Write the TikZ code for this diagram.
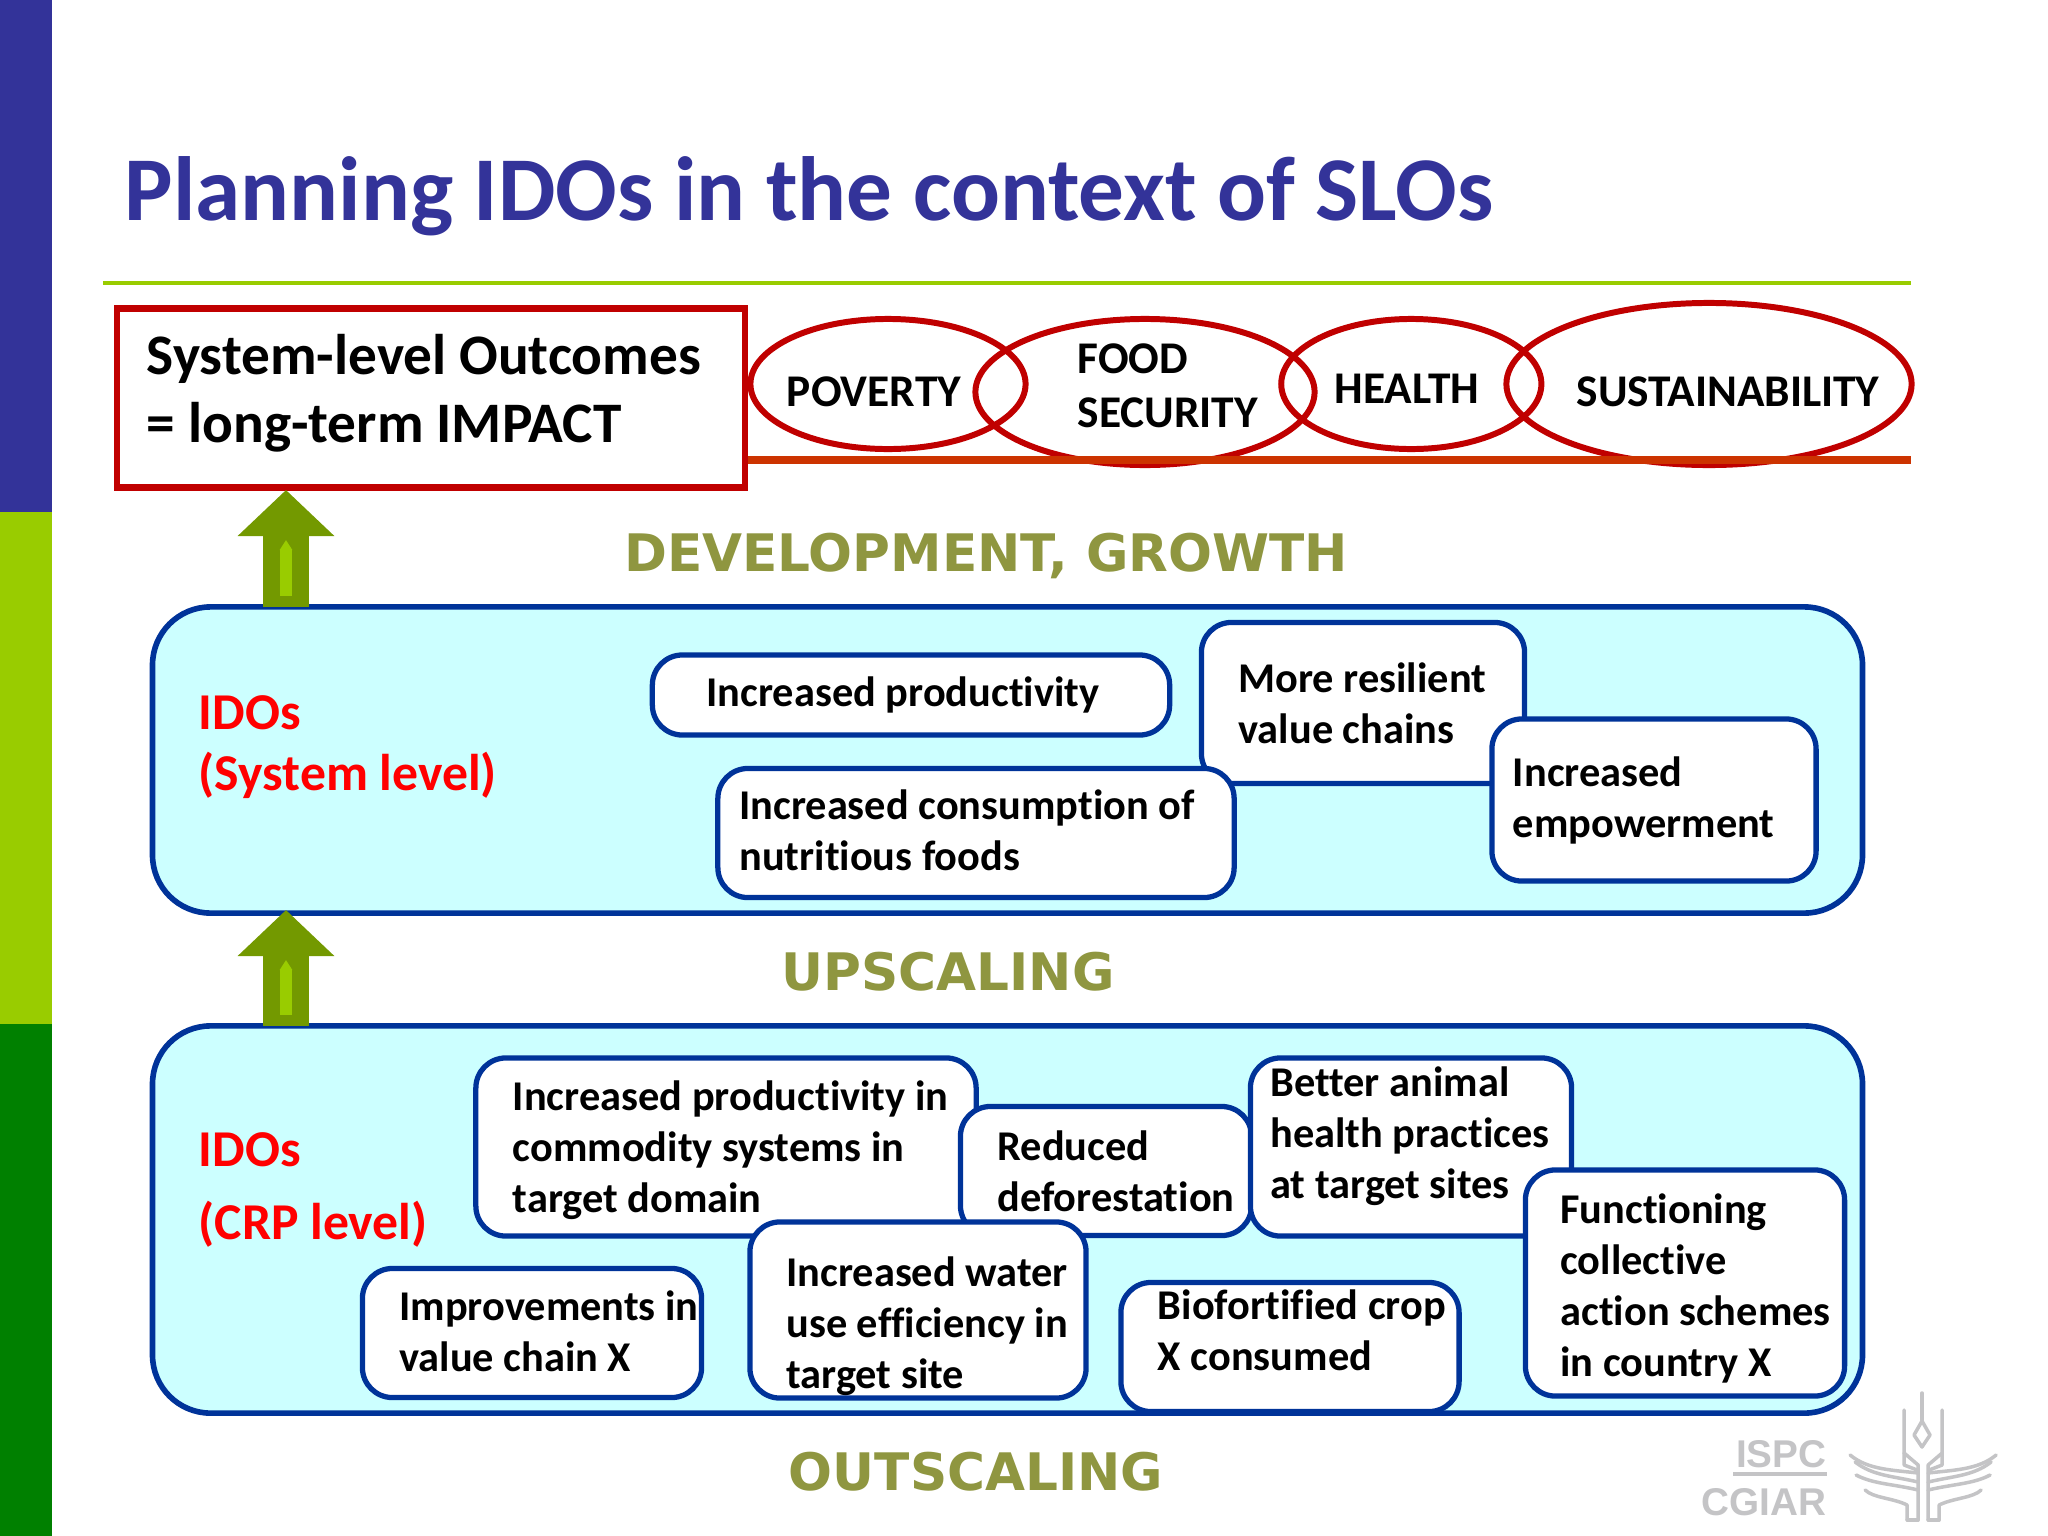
\documentclass[tikz,border=0pt]{standalone}
\usepackage{fontspec}
\usepackage{tikz}
\usetikzlibrary{shapes.geometric,arrows.meta}
\setmainfont{Carlito}[Ligatures=NoCommon]
\newfontfamily\headfont{DejaVu Sans}
\newfontfamily\logofont{Liberation Sans}
\definecolor{titleblue}{HTML}{333399}
\definecolor{barlime}{HTML}{99CC00}
\definecolor{bargreen}{HTML}{008000}
\definecolor{sloRed}{HTML}{C00000}
\definecolor{lineorange}{HTML}{CC3300}
\definecolor{panelblue}{HTML}{003399}
\definecolor{panelfill}{HTML}{CCFFFF}
\definecolor{arrowgreen}{HTML}{739900}
\definecolor{headolive}{HTML}{8F9640}
\definecolor{logogrey}{HTML}{C4C4C6}
\begin{document}
\begin{tikzpicture}[
                    x=0.01cm,
                    y=-0.01cm,
                    panel/.style={draw=panelblue, fill=panelfill, line width=1.6pt, rounded corners=0.58cm, inner sep=0pt},
                    lines/.style={text width=#1, execute at begin node={\parindent=0pt\spaceskip=0pt\xspaceskip=0pt\rightskip=-1cm plus 1fil\relax}},
                    idobox/.style={draw=panelblue, fill=white, line width=1.5pt, rounded corners=0.3cm, inner sep=0pt,
                        font=\fontsize{12.05}{14.5}\selectfont\bfseries},
                    slo/.style={ellipse, draw=sloRed, line width=1.7pt, inner sep=0pt},
                    slotext/.style={inner sep=0pt, align=left, font=\fontsize{12.9}{15.3}\selectfont\bfseries},
                    idolabel/.style={text=red, align=left, inner sep=0pt, anchor=west},
                    headlabel/.style={text=headolive, inner sep=0pt, font=\fontsize{14.7}{18}\headfont\bfseries},
                    bigarrow/.style={draw=arrowgreen, line width=0.46cm, -{Triangle[width=0.94cm,length=0.46cm]}},
                    smallarrow/.style={draw=barlime, line width=0.12cm, -{Triangle[width=0.12cm,length=0.1cm]}},
                    emblem/.style={draw=logogrey, line width=0.035cm, line cap=round, line join=round}
                ]
                \useasboundingbox (0,0) rectangle (2048,1536);
                \fill[white] (0,0) rectangle (2048,1536);
                \fill[titleblue] (0,0) rectangle (52,512);
                \fill[barlime] (0,512) rectangle (52,1024);
                \fill[bargreen] (0,1024) rectangle (52,1536);

                \node (title) [text=titleblue, anchor=west, inner sep=0pt, font=\fontsize{25.93}{30}\selectfont\bfseries]
                    at (124,196) {Planning IDOs in the context of SLOs};
                \coordinate (ruleleft) at (103,283);
                \coordinate (ruleright) at (1911,283);
                \draw[barlime, line width=0.04cm] (ruleleft) -- (ruleright);

                \node (impact) [draw=sloRed, line width=1.8pt, fill=white, inner sep=0pt, minimum width=6.28cm, minimum height=1.79cm,
                    lines=5.68cm, font=\fontsize{16.3}{19.3}\selectfont\bfseries] at (431,398)
                    {System-level Outcomes\\= long-term IMPACT\vspace*{0.1cm}};

                \node (poverty) [slo, minimum width=2.75cm, minimum height=1.3cm] at (888,384) {};
                \node (food) [slo, minimum width=3.39cm, minimum height=1.46cm] at (1145,392) {};
                \node (health) [slo, minimum width=2.6cm, minimum height=1.3cm, right of=poverty, node distance=5.23cm] {};
                \node (sustain) [slo, minimum width=4.05cm, minimum height=1.62cm] at (1709,384) {};
                \node (povertytext) [slotext] at (874,392) {POVERTY};
                \node (foodtext) [slotext, anchor=west] at (1077,386) {FOOD\\SECURITY};
                \node (healthtext) [slotext] at (1407,389) {HEALTH};
                \node (sustaintext) [slotext] at (1728,392) {SUSTAINABILITY};
                \coordinate (baseleft) at (impact.east |- 0,460);
                \coordinate (baseright) at (1911,460);
                \draw[lineorange, line width=0.08cm] (baseleft) -- (baseright);

                \node (development) [headlabel] at (986,556) {DEVELOPMENT, GROWTH};
                \node (upscaling) [headlabel] at (948,972) {UPSCALING};
                \node (outscaling) [headlabel] at (976,1472) {OUTSCALING};

                \node (system) [panel, minimum width=17.09cm, minimum height=3.06cm] at (1007.5,760) {};
                \node (crp) [panel, minimum width=17.09cm, minimum height=3.87cm] at (1007.5,1219.5) {};

                \coordinate (arrowa) at (286,607);
                \coordinate (arrowb) at (286,490);
                \coordinate (arrowc) at (286,1026);
                \coordinate (arrowd) at (286,910);
                \coordinate (stripea) at (286,596);
                \coordinate (stripeb) at (286,540);
                \coordinate (stripec) at (286,1015);
                \coordinate (striped) at (286,960);
                \draw[bigarrow] (arrowa) -- (arrowb);
                \draw[bigarrow] (arrowc) -- (arrowd);
                \draw[smallarrow] (stripea) -- (stripeb);
                \draw[smallarrow] (stripec) -- (striped);

                \node (systemlabel) [idolabel, font=\fontsize{14.7}{17.5}\selectfont\bfseries] at (198,747) {IDOs\\(System level)};
                \node (crplabel) [idolabel, font=\fontsize{14.7}{20.9}\selectfont\bfseries] at (198,1190) {IDOs\\(CRP level)};

                \node (productivity) [idobox, minimum width=5.17cm, minimum height=0.8cm] at (911,695) {Increased productivity\hspace*{0.16cm}};
                \node (resilient) [idobox, minimum width=3.23cm, minimum height=1.61cm, lines=2.49cm] at (1363,703) {More resilient\\value chains};
                \node (empower) [idobox, minimum width=3.24cm, minimum height=1.62cm, lines=2.82cm] at (1654,800) {Increased\\empowerment};
                \node (consumption) [idobox, minimum width=5.16cm, minimum height=1.29cm, lines=4.73cm] at (976,833) {Increased consumption of\\nutritious foods\vspace*{0.06cm}};

                \node (commodity) [idobox, minimum width=5cm, minimum height=1.78cm, lines=4.26cm] at (726,1147) {\rule{0pt}{10.5pt}Increased productivity in\\commodity systems in\\target domain};
                \node (deforest) [idobox, minimum width=2.91cm, minimum height=1.29cm, lines=2.17cm] at (1106,1171) {Reduced\\deforestation};
                \node (animal) [idobox, minimum width=3.21cm, minimum height=1.78cm, lines=2.81cm] at (1411,1147) {Better animal\\health practices\\at target sites\vspace*{0.21cm}};
                \node (collective) [idobox, minimum width=3.19cm, minimum height=2.26cm, lines=2.49cm] at (1685,1283) {\rule{0pt}{11.6pt}Functioning\\collective\\action schemes\\in country X};
                \node (valuechain) [idobox, minimum width=3.39cm, minimum height=1.29cm, lines=2.65cm] at (532,1333) {Improvements in\\value chain X\vspace*{0.04cm}};
                \node (water) [idobox, minimum width=3.36cm, minimum height=1.76cm, lines=2.63cm] at (918,1310) {\rule{0pt}{17.6pt}Increased water\\use efficiency in\\target site};
                \node (biofort) [idobox, minimum width=3.38cm, minimum height=1.29cm, lines=2.64cm] at (1290,1347) {Biofortified crop\\X consumed\vspace*{0.34cm}};

                \node (ispc) [text=logogrey, anchor=east, inner sep=0pt, font=\fontsize{11}{12}\logofont\bfseries] at (1827,1454) {ISPC};
                \node (cgiar) [text=logogrey, anchor=east, inner sep=0pt, font=\fontsize{11}{12}\logofont\bfseries] at (1827,1502) {CGIAR};
                \coordinate (ispca) at (1733,1474);
                \coordinate (ispcb) at (1827,1474);
                \draw[logogrey, line width=0.04cm] (ispca) -- (ispcb);

                \draw[emblem] (1922,1393) -- (1922,1420);
                \draw[emblem] (1922,1421) -- (1930,1435) -- (1922,1447) -- (1914,1435) -- cycle;
                \foreach \side in {1,-1} {
                    \begin{scope}[xshift=19.22cm, xscale=\side]
                        \draw[emblem] (19,1410) -- (19,1453) -- (5,1465) -- (5,1520);
                        \draw[emblem] (19,1453) -- (19,1465) -- (6,1470);
                        \draw[emblem] (5,1473) .. controls (30,1470) and (55,1470) .. (73,1455);
                        \draw[emblem] (5,1482) .. controls (30,1476) and (50,1476) .. (68,1462);
                        \draw[emblem] (5,1490) .. controls (30,1484) and (50,1484) .. (67,1475);
                        \draw[emblem] (16,1520) -- (16,1505) .. controls (30,1498) and (50,1498) .. (58,1490);
                        \draw[emblem] (5,1520) -- (16,1520);
                    \end{scope}
                }
            \end{tikzpicture}
\end{document}
